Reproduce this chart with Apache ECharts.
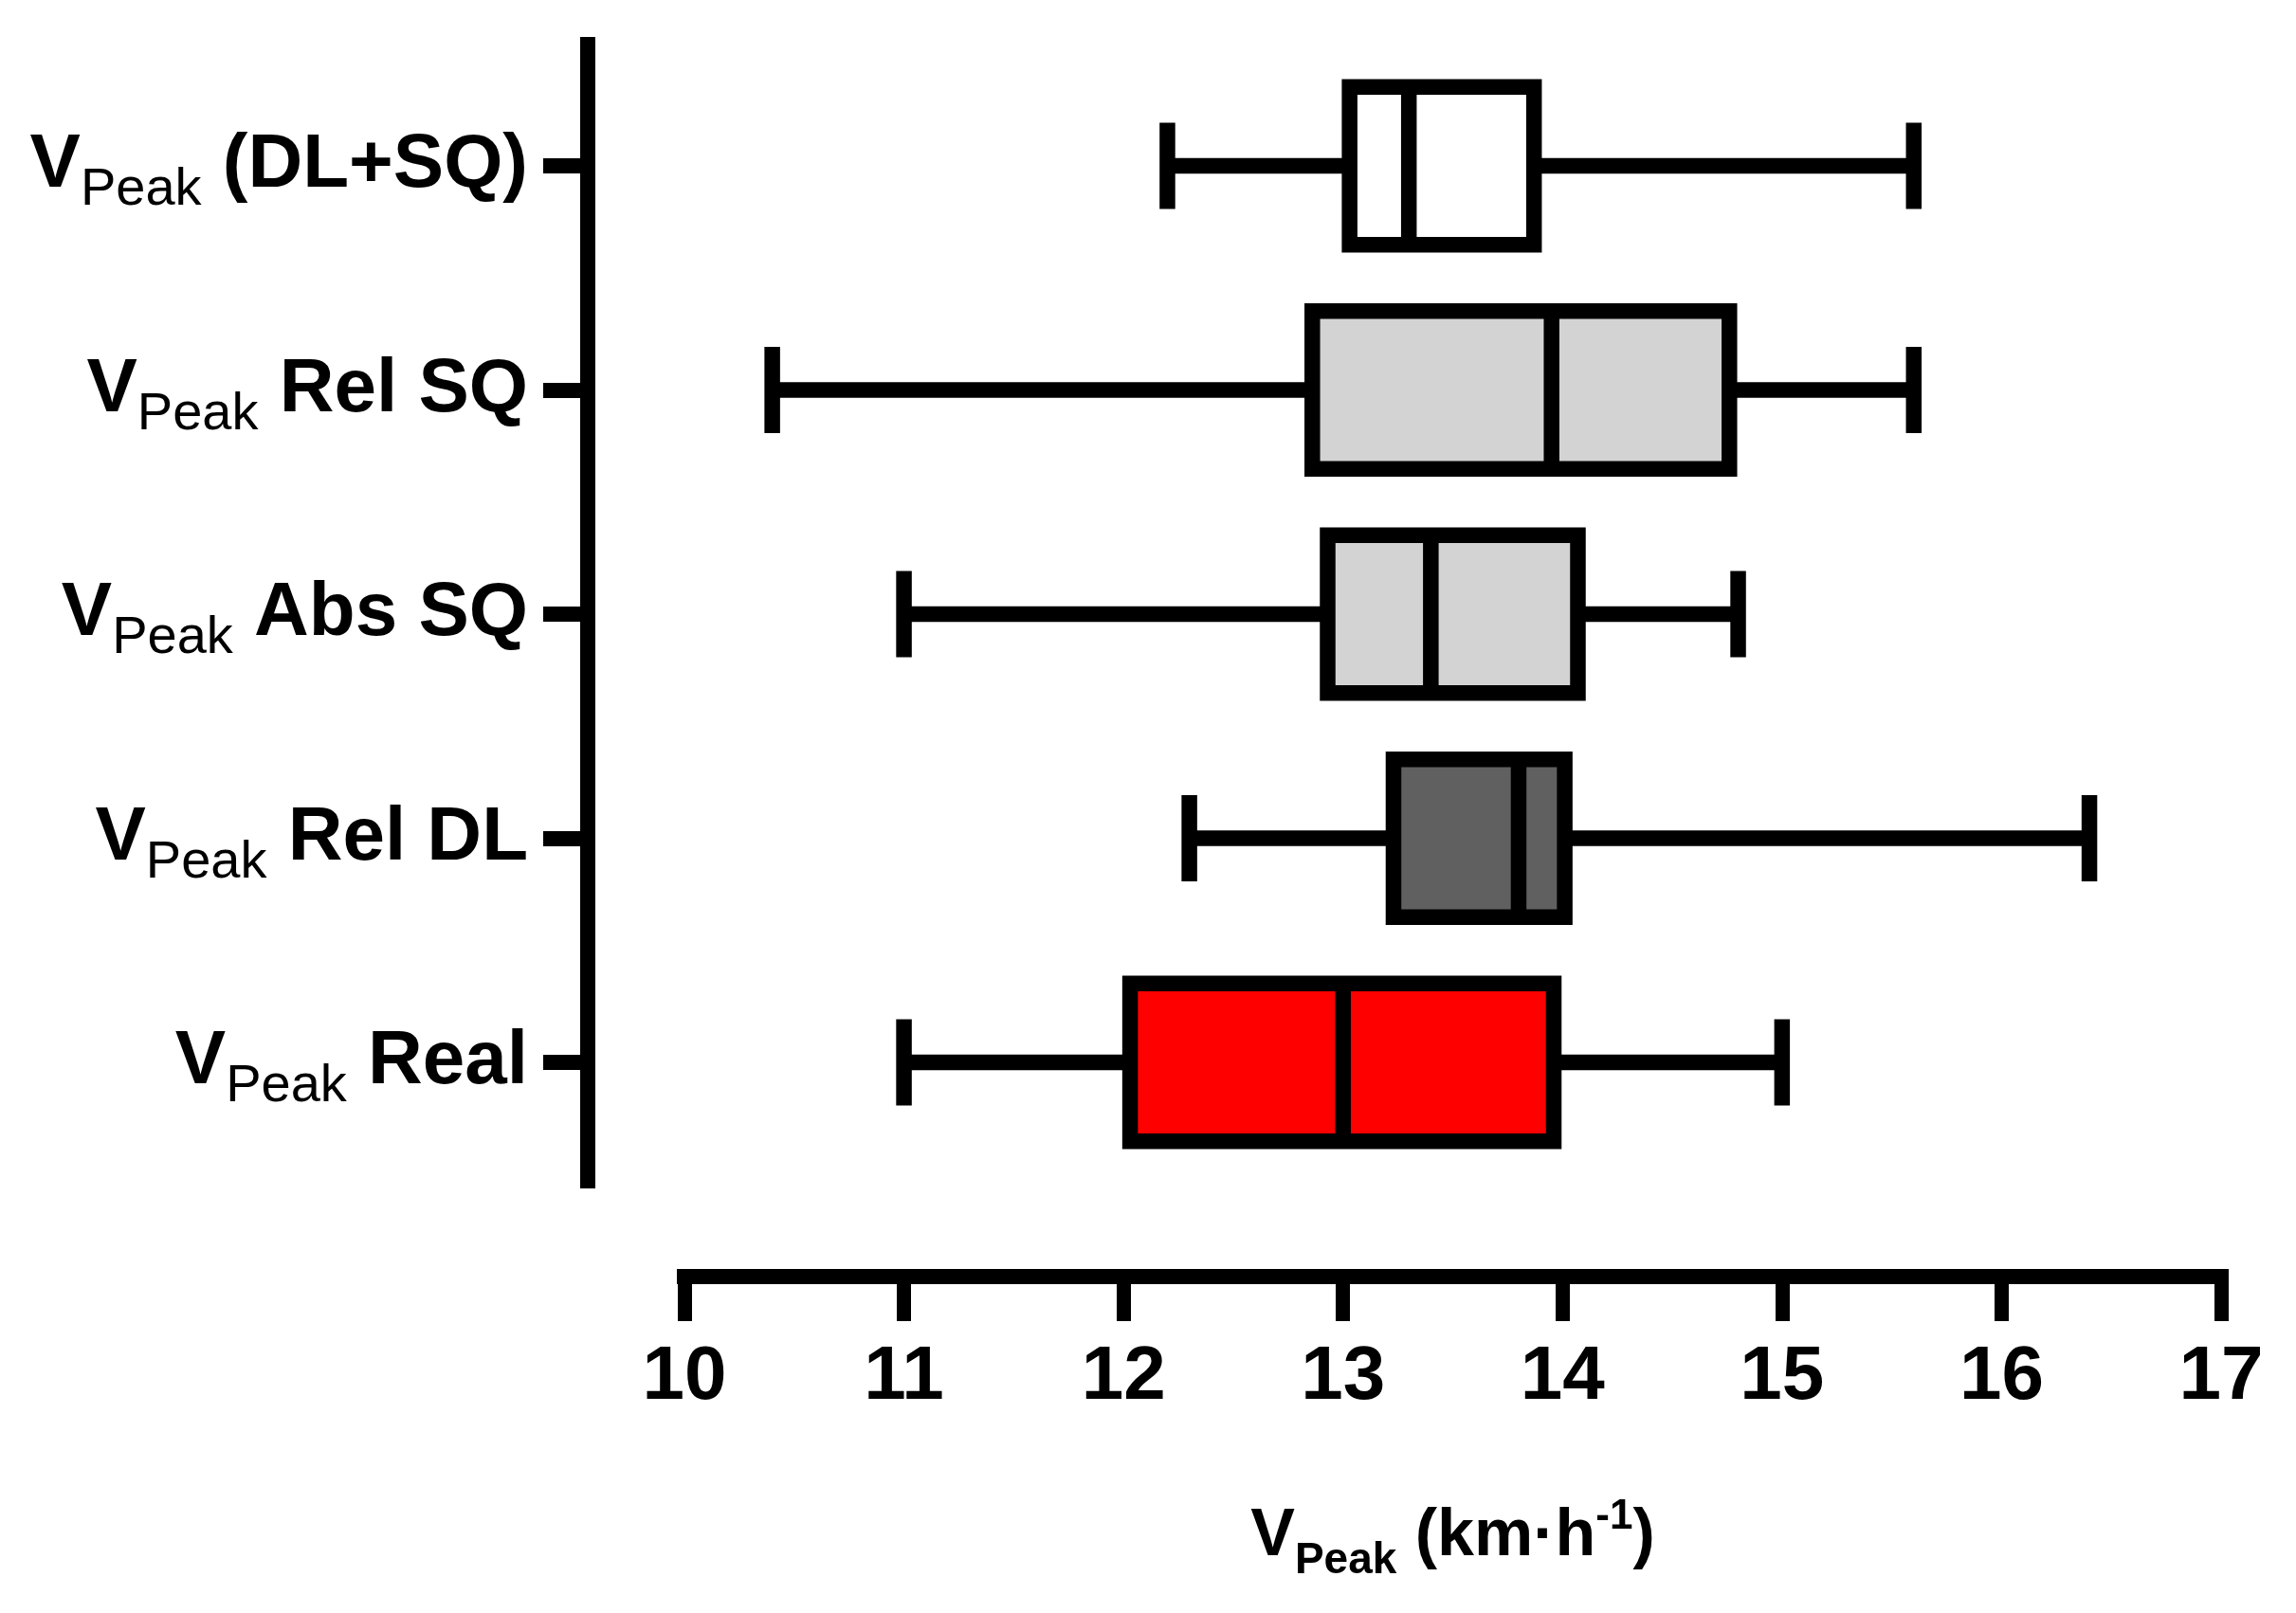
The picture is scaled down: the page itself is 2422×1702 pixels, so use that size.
<!DOCTYPE html>
<html>
<head>
<meta charset="utf-8">
<script src="https://cdn.jsdelivr.net/npm/echarts@6/dist/echarts.min.js"></script>
<style>
html,body{margin:0;padding:0;background:#fff;}
#chart{width:2422px;height:1702px;}
</style>
</head>
<body>
<div id="chart"></div>
<script>
// Categories (top to bottom), label suffix after "V_Peak"
const categories = ['(DL+SQ)', 'Rel SQ', 'Abs SQ', 'Rel DL', 'Real'];
// Box plot statistics (km·h-1)
const whiskerMin = [12.2, 10.4, 11.0, 12.3, 11.0];
const q1 = [13.03, 12.86, 12.93, 13.23, 12.03];
const median = [13.3, 13.95, 13.4, 13.8, 13.0];
const q3 = [13.87, 14.76, 14.07, 14.01, 13.96];
const whiskerMax = [15.6, 15.6, 14.8, 16.4, 15.0];
const fillColors = ['#ffffff', '#d3d3d3', '#d3d3d3', '#606060', '#ff0000'];
// Axis ticks
const xTicks = [10, 11, 12, 13, 14, 15, 16, 17];

const FONT = 'Liberation Sans, Arial, sans-serif';
const boxData = categories.map((c, i) => [i, whiskerMin[i], q1[i], median[i], q3[i], whiskerMax[i]]);

const chart = echarts.init(document.getElementById('chart'), null, {renderer: 'canvas'});
const LW = 16.5;

const option = {
  backgroundColor: '#ffffff',
  animation: false,
  grid: [
    {left: 722, right: 79, top: 56.75, height: 1182.5},
    {left: 722, right: 79, top: 39, height: 1215}
  ],
  xAxis: [
    {
      gridIndex: 0,
      type: 'value',
      min: xTicks[0],
      max: xTicks[xTicks.length - 1],
      interval: 1,
      position: 'bottom',
      offset: 107.75,
      axisLine: {show: true, onZero: false, lineStyle: {color: '#000', width: 16, cap: 'square'}},
      axisTick: {show: true, length: 47, lineStyle: {color: '#000', width: 15}},
      splitLine: {show: false},
      axisLabel: {
        margin: 67,
        color: '#000',
        fontFamily: FONT,
        fontWeight: 'bold',
        fontSize: 80
      },
      name: '{v|V}{sub|Peak}{t| (km·h}{sup|-1}{t|)}',
      nameLocation: 'middle',
      nameGap: 226,
      nameTextStyle: {
        color: '#000',
        fontFamily: FONT,
        fontWeight: 'bold',
        fontSize: 70,
        rich: {
          v: {fontFamily: FONT, fontWeight: 'bold', fontSize: 70, color: '#000'},
          t: {fontFamily: FONT, fontWeight: 'bold', fontSize: 70, color: '#000'},
          sub: {fontFamily: FONT, fontWeight: 'bold', fontSize: 46, color: '#000', padding: [51, 0, 0, 0]},
          sup: {fontFamily: FONT, fontWeight: 'bold', fontSize: 44, color: '#000', padding: [0, 0, 42, 0]}
        }
      }
    },
    {
      gridIndex: 1,
      type: 'value',
      min: 0,
      max: 1,
      show: false
    }
  ],
  yAxis: [
    {
      gridIndex: 0,
      type: 'category',
      data: categories,
      inverse: true,
      position: 'left',
      offset: 102.5,
      boundaryGap: true,
      axisLine: {show: false},
      axisTick: {show: true, alignWithLabel: true, length: 46.5, lineStyle: {color: '#000', width: 16}},
      splitLine: {show: false},
      axisLabel: {
        margin: 62.5,
        color: '#000',
        formatter: function (val) { return '{v|V}{sub|Peak}{t| ' + val + '}'; },
        rich: {
          v: {fontFamily: FONT, fontWeight: 'bold', fontSize: 80, color: '#000'},
          t: {fontFamily: FONT, fontWeight: 'bold', fontSize: 80, color: '#000'},
          sub: {fontFamily: FONT, fontWeight: 'normal', fontSize: 56, color: '#000', padding: [52, 0, 0, 0]}
        }
      }
    },
    {
      gridIndex: 1,
      type: 'value',
      min: 0,
      max: 1,
      position: 'left',
      offset: 102.5,
      axisLine: {show: true, onZero: false, lineStyle: {color: '#000', width: 16, cap: 'butt'}},
      axisTick: {show: false},
      axisLabel: {show: false},
      splitLine: {show: false}
    }
  ],
  series: [
    {
      type: 'custom',
      xAxisIndex: 0,
      yAxisIndex: 0,
      silent: true,
      clip: false,
      encode: {x: [1, 2, 3, 4, 5], y: 0},
      data: boxData,
      renderItem: function (params, api) {
        const idx = api.value(0);
        const pMin = api.coord([api.value(1), idx]);
        const pQ1 = api.coord([api.value(2), idx]);
        const pMed = api.coord([api.value(3), idx]);
        const pQ3 = api.coord([api.value(4), idx]);
        const pMax = api.coord([api.value(5), idx]);
        const band = api.size([0, 1])[1];
        const boxH = band * 0.704;
        const capH = band * 0.385;
        const cy = pMin[1];
        const ls = {stroke: '#000', lineWidth: LW, lineCap: 'butt'};
        return {
          type: 'group',
          children: [
            {type: 'line', shape: {x1: pMin[0], y1: cy, x2: pQ1[0], y2: cy}, style: ls},
            {type: 'line', shape: {x1: pQ3[0], y1: cy, x2: pMax[0], y2: cy}, style: ls},
            {type: 'line', shape: {x1: pMin[0], y1: cy - capH / 2, x2: pMin[0], y2: cy + capH / 2}, style: ls},
            {type: 'line', shape: {x1: pMax[0], y1: cy - capH / 2, x2: pMax[0], y2: cy + capH / 2}, style: ls},
            {type: 'rect', shape: {x: pQ1[0], y: cy - boxH / 2, width: pQ3[0] - pQ1[0], height: boxH},
              style: {fill: fillColors[idx], stroke: '#000', lineWidth: LW, lineJoin: 'miter'}},
            {type: 'line', shape: {x1: pMed[0], y1: cy - boxH / 2, x2: pMed[0], y2: cy + boxH / 2}, style: ls}
          ]
        };
      }
    }
  ]
};
chart.setOption(option);
</script>
</body>
</html>
